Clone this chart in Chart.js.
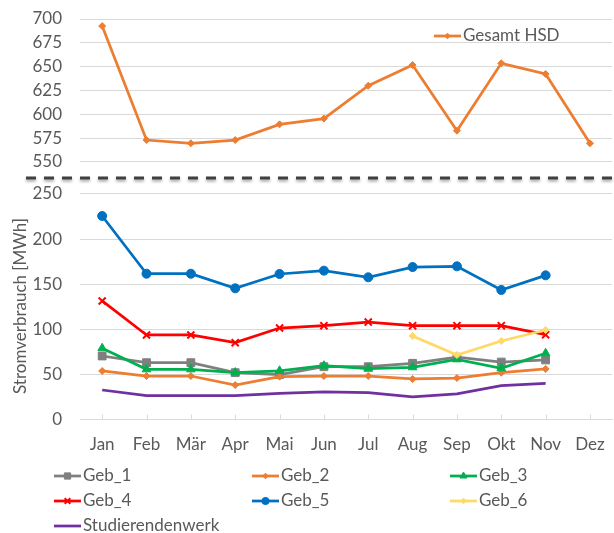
<!DOCTYPE html>
<html>
<head>
<meta charset="utf-8">
<script src="https://cdn.jsdelivr.net/npm/chart.js@4.4.1/dist/chart.umd.min.js"></script>
<style>
  html, body { margin: 0; padding: 0; background: #fff; overflow: hidden; }
  #wrap { width: 620px; height: 533px; }
</style>
</head>
<body>
<div id="wrap"><canvas id="chart" width="620" height="533"></canvas></div>
<script>
const months = ['Jan', 'Feb', 'Mär', 'Apr', 'Mai', 'Jun', 'Jul', 'Aug', 'Sep', 'Okt', 'Nov', 'Dez'];
const gesamtHSD = [692.6, 573, 569.6, 573, 589.5, 595.5, 630, 651.7, 582.8, 653.5, 642.3, 569.6];
const geb1 = [70.4, 63, 63, 51.9, 49.7, 58.5, 58.5, 62.3, 69, 63.7, 66, null];
const geb2 = [53.8, 48.2, 48.2, 38.2, 47.5, 48.2, 48.2, 44.9, 46, 51.9, 56, null];
const geb3 = [79, 55.6, 55.6, 52, 54, 59.6, 56.3, 57.9, 66.7, 56.8, 73.4, null];
const geb4 = [131.4, 93.7, 93.7, 85.2, 101.4, 104, 108, 104, 104, 104, 94, null];
const geb5 = [225.6, 161.6, 161.6, 145.4, 161.3, 165, 157.6, 169, 169.8, 143.6, 159.8, null];
const geb6 = [null, null, null, null, null, null, null, 92.6, 71.5, 87, 99.2, null];
const studierendenwerk = [32.7, 26.4, 26.4, 26.4, 29, 30.5, 29.7, 25, 28.3, 37.5, 40, null];
const topTicks = [550, 575, 600, 625, 650, 675, 700];
const bottomTicks = [0, 50, 100, 150, 200, 250];
const yTitle = 'Stromverbrauch [MWh]';

const textColor = '#595959';
const gridColor = '#d9d9d9';
const fontFamily = 'Lato, "Open Sans", sans-serif';

function series(label, data, color, pointStyle, radius, axis, order) {
  return {
    label, data, yAxisID: axis, order,
    borderColor: color, backgroundColor: color,
    pointBackgroundColor: color, pointBorderColor: color,
    borderWidth: 2.75, pointStyle, pointRadius: radius, pointBorderWidth: pointStyle === 'crossRot' ? 2 : 1,
    tension: 0, spanGaps: false
  };
}

const datasets = [
  series('Geb_1', geb1, '#7f7f7f', 'rect', 5.5, 'y', 8),
  series('Geb_2', geb2, '#ed7d31', 'rectRot', 3.5, 'y', 7),
  series('Geb_3', geb3, '#00b050', 'triangle', 5, 'y', 6),
  series('Geb_4', geb4, '#ff0000', 'crossRot', 5, 'y', 5),
  series('Geb_5', geb5, '#0070c0', 'circle', 4.5, 'y', 4),
  series('Geb_6', geb6, '#ffd966', 'rectRot', 3.5, 'y', 3),
  series('Studierendenwerk', studierendenwerk, '#7030a0', 'circle', 0, 'y', 2),
  series('Gesamt HSD', gesamtHSD, '#ed7d31', 'rectRot', 3.5, 'yTop', 1)
];

// legend slots: [x of line start, y of row centre]
const legendSlots = {
  'Geb_1': [54, 476], 'Geb_2': [252, 476], 'Geb_3': [450, 476],
  'Geb_4': [54, 501], 'Geb_5': [252, 501], 'Geb_6': [450, 501],
  'Studierendenwerk': [54, 526], 'Gesamt HSD': [434, 36]
};

const excelDecor = {
  id: 'excelDecor',
  beforeDatasetsDraw(chart) {
    const { ctx, chartArea, scales } = chart;
    ctx.save();
    ctx.strokeStyle = gridColor;
    ctx.lineWidth = 1;
    months.forEach((m, i) => {
      const x = Math.round(scales.x.getPixelForTick(i)) + 0.5;
      ctx.beginPath();
      ctx.moveTo(x, chartArea.bottom - 5);
      ctx.lineTo(x, chartArea.bottom);
      ctx.stroke();
    });
    // axis title, centred a little below the lower axis middle like Excel does
    ctx.translate(20.5, 306);
    ctx.rotate(-Math.PI / 2);
    ctx.font = '17px ' + fontFamily;
    ctx.fillStyle = textColor;
    ctx.textAlign = 'center';
    ctx.textBaseline = 'middle';
    ctx.fillText(yTitle, 0, 0);
    ctx.restore();
  },
  afterDraw(chart) {
    const { ctx } = chart;
    // axis break
    ctx.save();
    ctx.strokeStyle = '#404040';
    ctx.lineWidth = 3;
    ctx.setLineDash([10, 8]);
    ctx.shadowColor = 'rgba(0,0,0,0.35)';
    ctx.shadowBlur = 3;
    ctx.shadowOffsetY = 2;
    ctx.beginPath();
    ctx.moveTo(26, 178);
    ctx.lineTo(chart.width, 178);
    ctx.stroke();
    ctx.restore();

    // legend
    ctx.save();
    ctx.font = '17px ' + fontFamily;
    ctx.textBaseline = 'middle';
    ctx.fillStyle = textColor;
    chart.data.datasets.forEach((ds) => {
      const [x, y] = legendSlots[ds.label];
      ctx.save();
      ctx.strokeStyle = ds.borderColor;
      ctx.lineWidth = ds.borderWidth;
      ctx.beginPath();
      ctx.moveTo(x, y);
      ctx.lineTo(x + 27, y);
      ctx.stroke();
      if (ds.pointRadius > 0) {
        ctx.fillStyle = ds.pointBackgroundColor;
        ctx.strokeStyle = ds.pointBorderColor;
        ctx.lineWidth = ds.pointBorderWidth;
        Chart.helpers.drawPoint(ctx, { pointStyle: ds.pointStyle, radius: ds.pointRadius * 0.8, borderWidth: ds.pointBorderWidth, rotation: 0 }, x + 13.5, y);
      }
      ctx.restore();
      ctx.fillText(ds.label, x + 29, y);
    });
    ctx.restore();
  }
};

const tickFont = { family: fontFamily, size: 17 };

// fixed axis box: 80px wide, no extra padding pushed onto the chart area
function fixY(s) {
  s.width = 80;
  s.paddingTop = 0;
  s.paddingBottom = 0;
}

new Chart(document.getElementById('chart'), {
  type: 'line',
  data: { labels: months, datasets },
  plugins: [excelDecor],
  options: {
    responsive: false,
    animation: false,
    events: [],
    layout: { padding: { top: 19, right: 3, left: 0, bottom: 0 } },
    plugins: { legend: { display: false }, tooltip: { enabled: false } },
    scales: {
      x: {
        offset: true,
        grid: { display: false, drawTicks: false },
        border: { color: gridColor },
        ticks: { color: textColor, font: tickFont, padding: 15, autoSkip: false, maxRotation: 0 },
        afterFit: (s) => { s.height = 113.5; }
      },
      y: {
        position: 'left', stack: 'v', stackWeight: 241.5,
        min: 0, max: 267.7,
        afterBuildTicks: (s) => { s.ticks = bottomTicks.map((v) => ({ value: v })); },
        grid: { color: gridColor, drawTicks: false },
        border: { display: false },
        ticks: { color: textColor, font: tickFont, padding: 18, autoSkip: false },
        afterFit: fixY
      },
      yTop: {
        position: 'left', stack: 'v', stackWeight: 159,
        min: 533.2, max: 700,
        afterBuildTicks: (s) => { s.ticks = topTicks.map((v) => ({ value: v })); },
        grid: { color: gridColor, drawTicks: false },
        border: { display: false },
        ticks: { color: textColor, font: tickFont, padding: 18, autoSkip: false },
        afterFit: fixY
      }
    }
  }
});
</script>
</body>
</html>
